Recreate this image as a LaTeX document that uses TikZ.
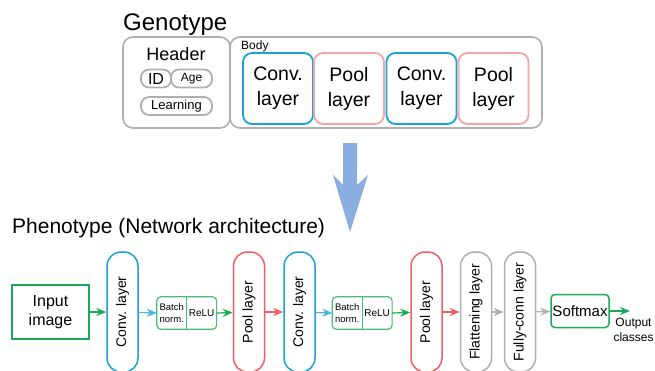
\documentclass[tikz,border=0pt]{standalone}
\usepackage{fontspec}
\setmainfont{Liberation Sans}
\usetikzlibrary{arrows.meta,positioning,shapes}
\definecolor{convblue}{RGB}{25,163,212}
\definecolor{poolpink}{RGB}{244,165,165}
\definecolor{poolred}{RGB}{240,95,95}
\definecolor{framegray}{RGB}{175,175,175}
\definecolor{netgreen}{RGB}{25,170,85}
\definecolor{bngreen}{RGB}{70,190,115}
\definecolor{flowblue}{RGB}{138,174,224}

\tikzset{
  genobox/.style={draw=framegray, line width=1.6pt, rounded corners=10pt, minimum height=91pt},
  pill/.style={draw=framegray, line width=1.8pt, rounded corners=8pt, minimum height=18pt, inner sep=1pt},
  layerbox/.style={line width=1.8pt, rounded corners=9pt, minimum width=70pt, minimum height=71pt, align=center, font=\fontsize{19.5}{25}\selectfont},
  tallbox/.style={line width=1.5pt, rounded corners=14pt, rotate=90, minimum width=120pt, minimum height=31pt, font=\fontsize{14}{17}\selectfont},
  bnpart/.style={minimum width=29.5pt, minimum height=32pt, inner sep=0pt, align=center},
  flow/.style={-{Stealth[length=10pt,width=8pt]}, line width=1.2pt},
}

\begin{document}
\begin{tikzpicture}[x=1pt, y=-1pt]
    \useasboundingbox (0,0) rectangle (655,370);

    % genotype
    \node[anchor=base west, inner sep=0pt, font=\fontsize{24}{28}\selectfont] (geno) at (123,30) {Genotype};
    \node[genobox, minimum width=107pt] (header) at (176.5,82.5) {};
    \node[genobox, minimum width=312pt] (body) at (386,82.5) {};
    \node[anchor=base, inner sep=0pt, font=\fontsize{18}{20}\selectfont] (headtxt) at (176,60) {Header};
    \node[pill, minimum width=30pt, font=\fontsize{16}{18}\selectfont] (id) at (156,78.5) {ID};
    \node[pill, minimum width=41pt, font=\fontsize{12}{14}\selectfont] (age) at (191.5,78.5) {Age};
    \node[pill, minimum width=71pt, font=\fontsize{13}{15}\selectfont] (learn) at (176.5,106) {Learning};
    \node[anchor=base west, inner sep=0pt, font=\fontsize{12}{14}\selectfont] (bodytxt) at (241,49) {Body};
    \node[layerbox, draw=convblue] (gconvA) at (278,88.5) {Conv.\\layer};
    \node[layerbox, draw=poolpink] (gpoolA) at (349,88.5) {Pool\\layer};
    \node[layerbox, draw=convblue] (gconvB) at (421.5,88.5) {Conv.\\layer};
    \node[layerbox, draw=poolpink] (gpoolB) at (493.5,88.5) {Pool\\layer};

    % decoding arrow
    \fill[flowblue] (343,143) -- (357,143) -- (357,185) -- (368,175) -- (350,232)
        -- (333,175) -- (343,185) -- cycle;

    % phenotype
    \node[anchor=base west, inner sep=0pt, font=\fontsize{21}{24}\selectfont] (pheno) at (12,233) {Phenotype (Network architecture)};
    \node[draw=netgreen, line width=2.2pt, minimum width=77pt, minimum height=54pt, align=center,
        font=\fontsize{16}{19.5}\selectfont] (input) at (50.5,312) {Input\\image};
    \node[tallbox, draw=convblue] (convA) at (122.5,312) {Conv. layer};
    \node[bnpart, font=\fontsize{9.5}{12}\selectfont] (bnA) at (171.75,313) {Batch\\norm.};
    \node[bnpart, right=0pt of bnA, font=\fontsize{10}{12}\selectfont] (reluA) {ReLU};
    \draw[bngreen, line width=1.2pt, rounded corners=4pt] (bnA.north west) rectangle (reluA.south east);
    \draw[bngreen, line width=1.2pt] (bnA.north east) -- (bnA.south east);
    \node[tallbox, draw=poolred] (poolA) at (249,312) {Pool layer};
    \node[tallbox, draw=convblue] (convB) at (299.5,312) {Conv. layer};
    \node[bnpart, font=\fontsize{9.5}{12}\selectfont] (bnB) at (347.25,313) {Batch\\norm.};
    \node[bnpart, right=0pt of bnB, font=\fontsize{10}{12}\selectfont] (reluB) {ReLU};
    \draw[bngreen, line width=1.2pt, rounded corners=4pt] (bnB.north west) rectangle (reluB.south east);
    \draw[bngreen, line width=1.2pt] (bnB.north east) -- (bnB.south east);
    \node[tallbox, draw=poolred] (poolB) at (426.5,312) {Pool layer};
    \node[tallbox, draw=framegray] (flat) at (476,312) {Flattening layer};
    \node[tallbox, draw=framegray] (fc) at (520,312) {Fully-conn layer};
    \node[draw=netgreen, line width=1.5pt, rounded corners=4pt, minimum width=58pt, minimum height=33pt,
        inner sep=1pt, font=\fontsize{15}{18}\selectfont] (softmax) at (580,311) {Softmax};
    \coordinate (out) at (630,311);
    \node[anchor=north, align=center, inner sep=0pt, font=\fontsize{12}{14.5}\selectfont] (outtxt) at (633.5,318) {Output\\classes};

    % connectors
    \draw[flow, netgreen] (input.east) -- (convA);
    \draw[flow, convblue!80] (convA) -- (bnA.west);
    \draw[flow, netgreen] (reluA.east) -- (poolA);
    \draw[flow, poolred] (poolA) -- (convB);
    \draw[flow, convblue!80] (convB) -- (bnB.west);
    \draw[flow, netgreen] (reluB.east) -- (poolB);
    \draw[flow, poolred] (poolB) -- (flat);
    \draw[flow, framegray] (flat) -- (fc);
    \draw[flow, framegray] (fc) -- (softmax);
    \draw[flow, netgreen, line width=2.4pt] (softmax) -- (out);
\end{tikzpicture}
\end{document}
